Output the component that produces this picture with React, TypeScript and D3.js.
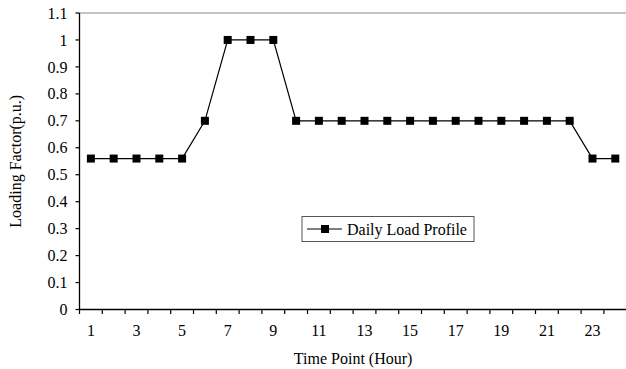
import React from "react";
import * as d3 from "d3";

// Hourly loading factor (p.u.) over a day
const hours: number[] = d3.range(1, 25);
const loadFactor: number[] = [
  0.56, 0.56, 0.56, 0.56, 0.56, 0.7, 1, 1, 1, 0.7, 0.7, 0.7,
  0.7, 0.7, 0.7, 0.7, 0.7, 0.7, 0.7, 0.7, 0.7, 0.7, 0.56, 0.56,
];
const yTicks: number[] = [0, 0.1, 0.2, 0.3, 0.4, 0.5, 0.6, 0.7, 0.8, 0.9, 1, 1.1];
const xLabelHours: number[] = [1, 3, 5, 7, 9, 11, 13, 15, 17, 19, 21, 23];

const W = 626;
const H = 369;
const left = 79.5;
const right = 626.7;
const top = 13;
const bottom = 309.5;
const font = "'Liberation Serif', 'Times New Roman', serif";
const fs = 16;

export default function App() {
  const x = d3.scaleBand<number>().domain(hours).range([left, right]);
  const y = d3.scaleLinear().domain([0, 1.1]).range([bottom, top]);
  const cx = (h: number) => (x(h) as number) + x.bandwidth() / 2;

  const line = d3
    .line<number>()
    .x((_, i) => cx(hours[i]))
    .y((d) => y(d));

  const tickEdges = d3.range(0, hours.length + 1).map((i) => left + i * x.step());
  const ms = 8;

  return (
    <svg
      width={W}
      height={H}
      style={{ position: "absolute", left: 0, top: 0, background: "#fff" }}
      fontFamily={font}
    >
      {/* plot frame */}
      <line x1={left} x2={right} y1={top} y2={top} stroke="#888" strokeWidth={1.2} />
      <line x1={right} x2={right} y1={top} y2={bottom} stroke="#888" strokeWidth={1} />

      {/* y axis */}
      <line x1={left} x2={left} y1={top} y2={bottom} stroke="#000" strokeWidth={1.3} />
      {yTicks.map((t) => (
        <g key={t}>
          <line x1={left - 4} x2={left} y1={y(t)} y2={y(t)} stroke="#000" strokeWidth={1.2} />
          <text
            x={67.5}
            y={y(t)}
            dy="0.35em"
            textAnchor="end"
            fontSize={fs}
            fill="#000"
          >
            {String(t)}
          </text>
        </g>
      ))}

      {/* x axis */}
      <line x1={left} x2={right} y1={bottom} y2={bottom} stroke="#000" strokeWidth={1.3} />
      {tickEdges.map((tx, i) => (
        <line key={i} x1={tx} x2={tx} y1={bottom} y2={bottom + 4.5} stroke="#000" strokeWidth={1.2} />
      ))}
      {xLabelHours.map((h) => (
        <text key={h} x={cx(h)} y={336} textAnchor="middle" fontSize={fs} fill="#000">
          {h}
        </text>
      ))}

      {/* axis titles */}
      <text x={(left + right) / 2} y={364} textAnchor="middle" fontSize={fs} fill="#000">
        Time Point (Hour)
      </text>
      <text
        transform={`translate(21,${(top + bottom) / 2}) rotate(-90)`}
        textAnchor="middle"
        fontSize={fs}
        fill="#000"
      >
        Loading Factor(p.u.)
      </text>

      {/* series */}
      <path d={line(loadFactor) ?? ""} fill="none" stroke="#000" strokeWidth={1.2} />
      {loadFactor.map((v, i) => (
        <rect
          key={i}
          x={cx(hours[i]) - ms / 2}
          y={y(v) - ms / 2}
          width={ms}
          height={ms}
          fill="#000"
        />
      ))}

      {/* legend */}
      <g>
        <rect x={302} y={216.5} width={172} height={25} fill="#fff" stroke="#555" strokeWidth={1} />
        <line x1={307} x2={342} y1={229} y2={229} stroke="#000" strokeWidth={1.2} />
        <rect x={325 - ms / 2} y={229 - ms / 2} width={ms} height={ms} fill="#000" />
        <text x={347} y={229} dy="0.35em" fontSize={fs} fill="#000">
          Daily Load Profile
        </text>
      </g>
    </svg>
  );
}
